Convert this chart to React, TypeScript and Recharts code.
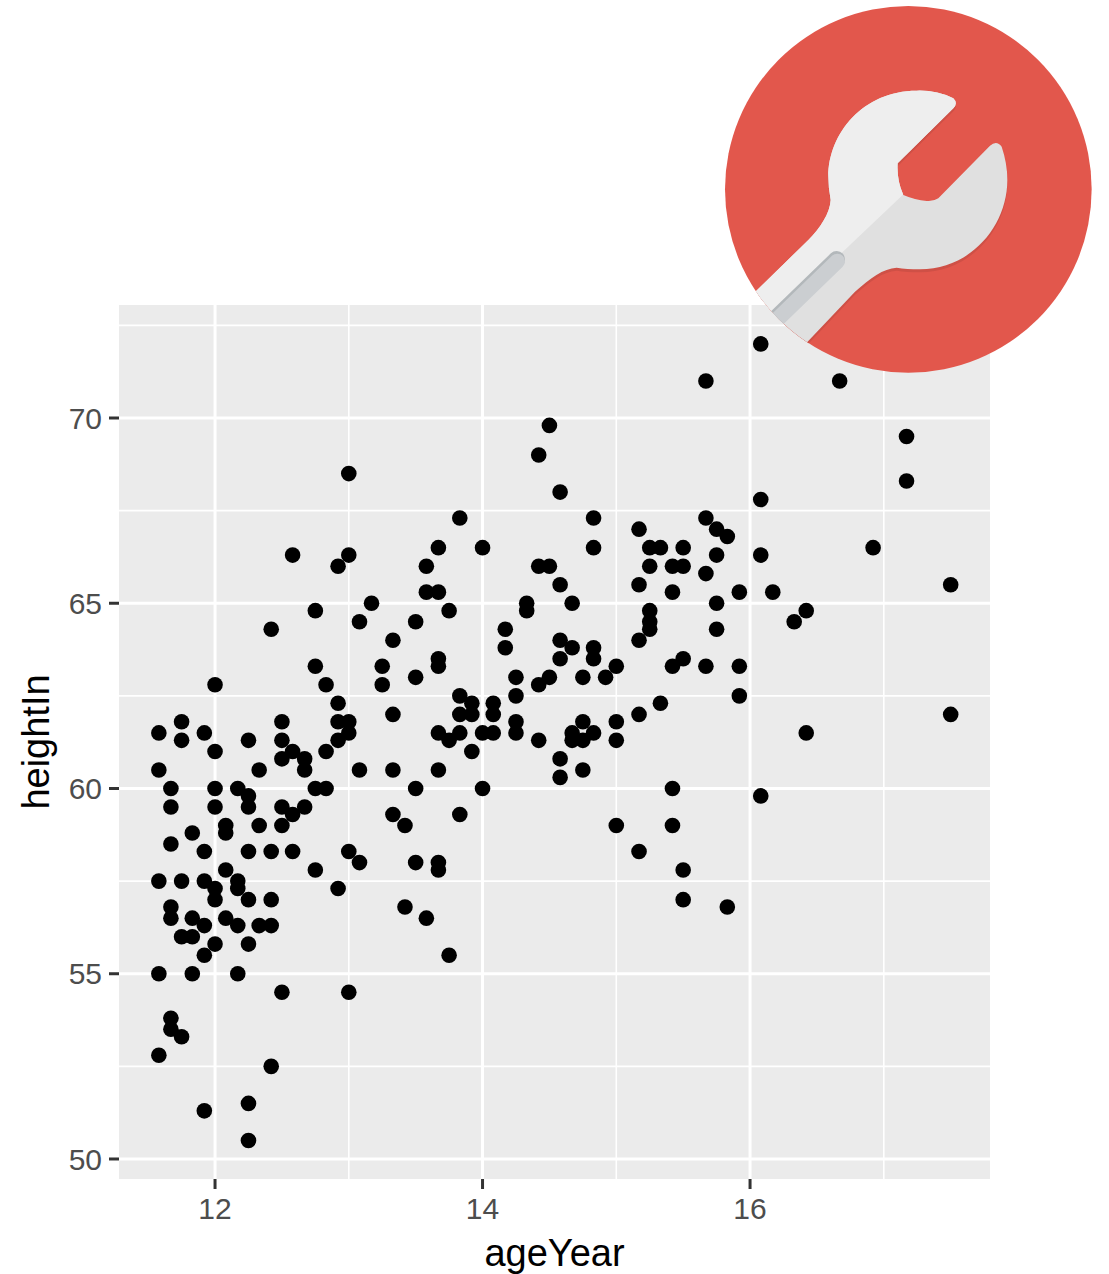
import React from 'react';
import { ScatterChart, Scatter, XAxis, YAxis, CartesianGrid } from 'recharts';

const ages = [11.58, 11.67, 11.75, 11.83, 11.92, 12, 12.08, 12.17, 12.25, 12.33, 12.42, 12.5, 12.58, 12.67, 12.75, 12.83, 12.92, 13, 13.08, 13.17, 13.25, 13.33, 13.42, 13.5, 13.58, 13.67, 13.75, 13.83, 13.92, 14, 14.08, 14.17, 14.25, 14.33, 14.42, 14.5, 14.58, 14.67, 14.75, 14.83, 14.92, 15, 15.17, 15.25, 15.33, 15.42, 15.5, 15.67, 15.75, 15.83, 15.92, 16.08, 16.17, 16.33, 16.42, 16.67, 16.92, 17.17, 17.5];

const heights: number[][] = [
  [61.5, 60.5, 57.5, 55, 52.8],
  [60, 59.5, 58.5, 56.8, 56.5, 53.8, 53.5],
  [61.8, 61.3, 57.5, 56, 53.3],
  [58.8, 56.5, 56, 55],
  [61.5, 58.3, 57.5, 56.3, 55.5, 51.3],
  [62.8, 61, 60, 59.5, 57.3, 57, 55.8],
  [59, 58.8, 57.8, 56.5],
  [60, 57.5, 57.3, 56.3, 55],
  [61.3, 59.8, 59.5, 58.3, 57, 55.8, 51.5, 50.5],
  [60.5, 59, 56.3],
  [64.3, 58.3, 57, 56.3, 52.5],
  [61.8, 61.3, 60.8, 59.5, 59, 54.5],
  [66.3, 61, 59.3, 58.3],
  [60.8, 60.5, 59.5],
  [64.8, 63.3, 60, 57.8],
  [62.8, 61, 60],
  [66, 62.3, 61.8, 61.3, 57.3],
  [68.5, 66.3, 61.8, 61.5, 58.3, 54.5],
  [64.5, 60.5, 58],
  [65],
  [63.3, 62.8],
  [64, 62, 60.5, 59.3],
  [59, 56.8],
  [64.5, 63, 60, 58],
  [66, 65.3, 56.5],
  [66.5, 65.3, 63.5, 63.3, 61.5, 60.5, 58, 57.8],
  [64.8, 61.3, 55.5],
  [67.3, 62.5, 62, 61.5, 59.3],
  [62.3, 62, 61],
  [66.5, 61.5, 60],
  [62.3, 62, 61.5],
  [64.3, 63.8],
  [63, 62.5, 61.8, 61.5],
  [65, 64.8],
  [69, 66, 62.8, 61.3],
  [69.8, 66, 63],
  [68, 65.5, 64, 63.5, 60.8, 60.3],
  [65, 63.8, 61.5, 61.3],
  [63, 61.8, 61.3, 60.5],
  [67.3, 66.5, 63.8, 63.5, 61.5],
  [63],
  [63.3, 61.8, 61.3, 59],
  [67, 65.5, 64, 62, 58.3],
  [66.5, 66, 64.8, 64.5, 64.3],
  [66.5, 62.3],
  [66, 65.3, 63.3, 60, 59],
  [66.5, 66, 63.5, 57.8, 57],
  [71, 67.3, 65.8, 63.3],
  [67, 66.3, 65, 64.3],
  [66.8, 56.8],
  [65.3, 63.3, 62.5],
  [72, 67.8, 66.3, 59.8],
  [65.3],
  [64.5],
  [64.8, 61.5],
  [71],
  [66.5],
  [69.5, 68.3],
  [65.5, 62],
];

const points = ages.flatMap((ageYear, i) => heights[i].map((heightIn) => ({ ageYear, heightIn })));

const xTicks = [12, 14, 16];
const yTicks = [50, 55, 60, 65, 70];
const xMinor = [13, 15, 17];
const yMinor = [52.5, 57.5, 62.5, 67.5, 72.5];
const xDomain = [11.282, 17.794];
const yDomain = [49.46, 73.05];

const FONT = '"Liberation Sans", Arial, sans-serif';
const tickStyle = { fill: '#4d4d4d', fontSize: 30, fontFamily: FONT };
const tickLine = { stroke: '#333333', strokeWidth: 3 };

const WRENCH =
  'M700,295 Q650,270 590,272 C430,272 325,400 325,530 Q325,565 332,600 C330,640 300,685 265,720 L60,920 L230,1060 L405,875 C450,835 490,805 530,803 Q560,808 600,808 C750,808 862,680 862,540 Q862,490 845,440 Q830,420 810,437 L655,595 Q640,605 620,603 Q585,600 550,585 Q530,540 533,490 L700,325 Q715,310 700,295 Z';

function Dot(props: any) {
  return <circle cx={props.cx} cy={props.cy} r={7.8} fill="#000000" />;
}

function Logo() {
  return (
    <svg
      width={380}
      height={380}
      viewBox="0 0 1140 1140"
      style={{ position: 'absolute', left: 720, top: 0 }}
    >
      <defs>
        <clipPath id="logoCircle">
          <circle cx={565} cy={568} r={550} />
        </clipPath>
        <clipPath id="wrenchLight">
          <polygon points="548,585 0,1105 0,0 1140,0" />
        </clipPath>
      </defs>
      <circle cx={565} cy={568} r={550} fill="#e2574c" />
      <g clipPath="url(#logoCircle)">
        <path d={WRENCH} fill="#cf5046" transform="translate(0,9)" />
        <path d={WRENCH} fill="#e0e0e0" />
        <path d={WRENCH} fill="#eeeeee" clipPath="url(#wrenchLight)" />
        <line x1={350} y1={778} x2={100} y2={1020} stroke="#b3b8bb" strokeWidth={50} strokeLinecap="round" />
        <line x1={352} y1={784} x2={102} y2={1026} stroke="#cbced1" strokeWidth={46} strokeLinecap="round" />
      </g>
    </svg>
  );
}

export default function App() {
  return (
    <div style={{ position: 'absolute', left: 0, top: 0, width: 1109, height: 1274, background: '#ffffff' }}>
      <ScatterChart width={1109} height={1274} margin={{ top: 305, right: 119, bottom: 0, left: 0 }}>
        <CartesianGrid
          fill="#ebebeb"
          fillOpacity={1}
          stroke="#ffffff"
          strokeWidth={1.6}
          horizontalValues={yMinor}
          verticalValues={xMinor}
        />
        <CartesianGrid
          stroke="#ffffff"
          strokeWidth={3}
          horizontalValues={yTicks}
          verticalValues={xTicks}
        />
        <XAxis
          type="number"
          dataKey="ageYear"
          domain={xDomain}
          ticks={xTicks}
          allowDataOverflow
          height={95}
          axisLine={false}
          tickLine={tickLine}
          tickSize={10}
          tickMargin={9}
          tick={tickStyle}
          label={{ value: 'ageYear', position: 'insideBottom', offset: 8, fill: '#000000', fontSize: 38, fontFamily: FONT }}
        />
        <YAxis
          type="number"
          dataKey="heightIn"
          domain={yDomain}
          ticks={yTicks}
          allowDataOverflow
          width={119}
          axisLine={false}
          tickLine={tickLine}
          tickSize={10}
          tickMargin={7}
          tick={tickStyle}
          label={{ value: 'heightIn', angle: -90, position: 'insideLeft', offset: 36, fill: '#000000', fontSize: 38, fontFamily: FONT, style: { textAnchor: 'middle' } }}
        />
        <Scatter data={points} fill="#000000" isAnimationActive={false} shape={Dot} />
      </ScatterChart>
      <Logo />
    </div>
  );
}
